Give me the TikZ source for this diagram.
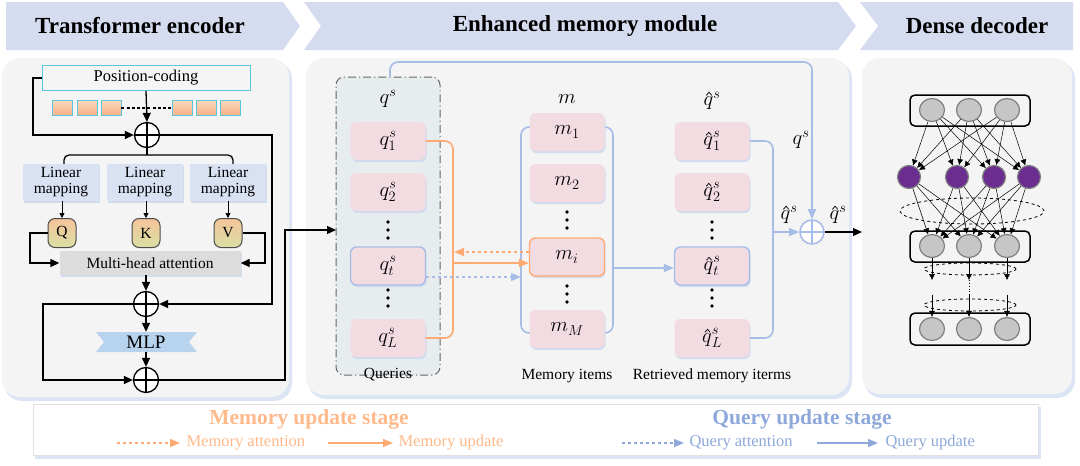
\documentclass[tikz,border=0pt]{standalone}
\usepackage{fontspec}
\setmainfont{Liberation Serif}
\usetikzlibrary{arrows.meta,calc,shapes.geometric,shadows}
\definecolor{bannerc}{HTML}{D6DCF0}
\definecolor{panelc}{HTML}{F4F4F4}
\definecolor{shadowc}{HTML}{DCE5F4}
\definecolor{pinkc}{HTML}{F2DCE2}
\definecolor{orangel}{HTML}{FFAA72}
\definecolor{orangetxt}{HTML}{FFB98A}
\definecolor{bluel}{HTML}{A8BCE8}
\definecolor{bluetxt}{HTML}{8EA8DB}
\definecolor{qfill}{HTML}{E7EDEF}
\definecolor{cyanb}{HTML}{5CC6E0}
\definecolor{lmfill}{HTML}{D9E2F3}
\definecolor{mhafill}{HTML}{DCDCDC}
\definecolor{mlpc}{HTML}{B7D3EE}
\definecolor{purplec}{HTML}{6B2D90}
\definecolor{grayc}{HTML}{C6C6C6}
\definecolor{tktop}{HTML}{FAD8BC}
\definecolor{tkbot}{HTML}{F5B084}
\definecolor{qkvtop}{HTML}{F5C49A}
\definecolor{qkvbot}{HTML}{D8DFA4}
\definecolor{boxshadow}{HTML}{C9D6EE}
% q with a drawn hat (keeps the hat from being a separate glyph)
\newcommand{\hq}{\mathord{\mbox{\ooalign{$q$\cr\hidewidth\kern0.06em\smash{\raisebox{0.5em}{\tikz[x=1pt,y=1pt,baseline=0pt,sharp corners]\draw[draw=black,solid,sharp corners,line width=0.035em,line join=miter,line cap=butt] (0,0) -- (0.13em,0.15em) -- (0.26em,0);}}\hidewidth\cr}}}}
\begin{document}
\begin{tikzpicture}[x=1pt,y=-1pt,
  ttl/.style={font=\bfseries\fontsize{23}{26}\selectfont},
  arr/.style={line width=1.3pt,-{Triangle[length=9pt,width=8pt]}},
  sarr/.style={line width=0.8pt,-{Triangle[length=5pt,width=5pt]}},
  blk/.style={line width=1.3pt},
  softshadow/.style={drop shadow={shadow xshift=1pt,shadow yshift=-2pt,fill=boxshadow,opacity=0.8}},
  oplus/.style={circle,draw,line width=1.3pt,fill=white,minimum size=25pt,inner sep=0pt,
    path picture={\draw[line width=1.3pt] (path picture bounding box.north) -- (path picture bounding box.south)
      (path picture bounding box.west) -- (path picture bounding box.east);}},
  bplus/.style={circle,draw=bluel,line width=1.6pt,fill=white,minimum size=24pt,inner sep=0pt,
    path picture={\draw[bluel,line width=1.6pt] (path picture bounding box.north) -- (path picture bounding box.south)
      (path picture bounding box.west) -- (path picture bounding box.east);}},
  token/.style={draw=cyanb,line width=0.9pt,top color=tktop,bottom color=tkbot,minimum width=20pt,minimum height=15pt,inner sep=0pt},
  lmbox/.style={fill=lmfill,softshadow,minimum width=76pt,minimum height=37pt,align=center,inner sep=1pt,font=\fontsize{15.5}{16}\selectfont},
  qkv/.style={draw=black!70,line width=1pt,rounded corners=7pt,top color=qkvtop,bottom color=qkvbot,minimum width=28pt,minimum height=29pt,inner sep=0pt,font=\fontsize{15.5}{16}\selectfont},
  pbox/.style={fill=pinkc,softshadow,rounded corners=6pt,minimum width=75pt,minimum height=38pt,inner sep=0pt,font=\fontsize{20}{21}\selectfont},
  lbl/.style={font=\fontsize{15.5}{17}\selectfont},
  mlbl/.style={font=\fontsize{21}{22}\selectfont},
  bline/.style={draw=bluel,line width=1.6pt},
  oline/.style={draw=orangel,line width=1.6pt},
  barr/.style={bline,-{Triangle[length=10pt,width=8pt]}},
  oarr/.style={oline,-{Triangle[length=10pt,width=8pt]}},
  gcirc/.style={ellipse,draw=black!50,line width=1.2pt,fill=grayc,minimum width=25pt,minimum height=23pt,inner sep=0pt},
  pcirc/.style={circle,draw=black!50,line width=1.2pt,fill=purplec,minimum size=23pt,inner sep=0pt},
  dline/.style={line width=0.5pt,-{Latex[length=6pt,width=6pt]}},
  vdot/.style={circle,fill=black,inner sep=0pt,minimum size=3.8pt},
  legtxt/.style={font=\fontsize{16.5}{18}\selectfont,anchor=west}
]
\useasboundingbox (0,0) rectangle (1080,466);
\fill[white] (0,0) rectangle (1080,466);

% banners
\fill[bannerc] (6,2) -- (283,2) -- (300,26) -- (283,50) -- (6,50) -- cycle;
\fill[bannerc] (304,2) -- (838,2) -- (856,26) -- (838,50) -- (304,50) -- (321,26) -- cycle;
\fill[bannerc] (860,2) -- (1073,2) -- (1073,50) -- (860,50) -- (878,26) -- cycle;
\node[ttl] (t1) at (140,26) {Transformer encoder};
\node[ttl] (t2) at (585,26) {Enhanced memory module};
\node[ttl] (t3) at (977,26) {Dense decoder};

% panels
\fill[shadowc,rounded corners=18pt] (4,61) rectangle (292,401);
\fill[panelc,rounded corners=18pt] (2,58) rectangle (289,397);
\fill[shadowc,rounded corners=18pt] (308,61) rectangle (852,399);
\fill[panelc,rounded corners=18pt] (306,58) rectangle (849,395);
\fill[shadowc,rounded corners=18pt] (864,61) rectangle (1075,398);
\fill[panelc,rounded corners=18pt] (862,58) rectangle (1072,394);

% legend box
\fill[shadowc] (35,407) rectangle (1041,459);
\draw[draw=black!12,fill=white] (33,404) rectangle (1038,455);

% ---------------- encoder
\node[draw=cyanb,line width=0.9pt,fill=black!4,minimum width=208pt,minimum height=25pt,inner sep=0pt,font=\fontsize{16.5}{18}\selectfont] (pc) at (146,78) {Position-coding};
\foreach \x/\n in {62/a,87/b,111/c,182/d,206/e,230/f}
  \node[token] (tk\n) at (\x,108) {};
\draw[line width=2.6pt,dash pattern=on 3pt off 2.2pt] (tkc.east) -- (tkd.west);
\node[oplus] (p1) at (147,135) {};
\draw[arr] (pc.south) -- (p1.north);
\coordinate (l1) at (33,78);
\draw[arr] (pc.west) -- (l1) |- (p1.west);
\draw[blk] (p1.south) -- (147,155);
\draw[blk,rounded corners=5pt] (64,164) -- (64,155) -- (233,155) -- (233,164);
\node[lmbox] (lm1) at (61,182) {Linear\\mapping};
\node[lmbox] (lm2) at (145,182) {Linear\\mapping};
\node[lmbox] (lm3) at (228,182) {Linear\\mapping};
\node[qkv] (Q) at (62,233) {Q};
\node[qkv] (K) at (146,233) {K};
\node[qkv] (V) at (228,233) {V};
\draw[sarr] (lm1.south -| Q) -- (Q.north);
\draw[sarr] (lm2.south -| K) -- (K.north);
\draw[sarr] (lm3.south -| V) -- (V.north);
\node[fill=mhafill,softshadow,minimum width=181pt,minimum height=24pt,inner sep=0pt,font=\fontsize{15.5}{17}\selectfont] (mha) at (150,263) {Multi-head attention};
\coordinate (ql) at (30,233);
\coordinate (vr) at (265,233);
\draw[arr] (Q.west) -- (ql) |- (mha.west);
\draw[arr] (V.east) -- (vr) |- (mha.east);
\node[oplus] (p2) at (146,304) {};
\draw[arr] (p2.north |- mha.south) -- (p2.north);
\coordinate (r1) at (272,135);
\draw[arr] (p1.east) -- (r1) |- (p2.east);
\fill[mlpc] (96,332) -- (197,332) -- (189,342) -- (197,352) -- (96,352) -- (104,342) -- cycle;
\node[minimum width=101pt,minimum height=20pt,inner sep=0pt,font=\fontsize{19}{20}\selectfont] (mlp) at (146,342) {MLP};
\draw[arr] (p2.south) -- (mlp.north);
\node[oplus] (p3) at (146,380) {};
\draw[arr] (mlp.south) -- (p3.north);
\coordinate (l2) at (43,304);
\draw[arr] (p2.west) -- (l2) |- (p3.west);

% ---------------- memory module
\node[draw=black!60,line width=1pt,dash pattern=on 8pt off 3pt on 1.2pt off 3pt,fill=qfill,rounded corners=8pt,minimum width=104pt,minimum height=298pt,inner sep=0pt] (qbox) at (388,226) {};
\coordinate (qin) at (336,230);
\coordinate (c1) at (285,380);
\draw[arr] (p3.east) -- (c1) |- (qin);

\node[mlbl] (qsl) at (388,99) {$q^s$};
\node[pbox] (q1) at (388,141) {$q^s_1$};
\node[pbox] (q2) at (388,192) {$q^s_2$};
\node[pbox,draw=bluel,line width=1.4pt] (qt) at (388,266) {$q^s_t$};
\node[pbox] (qL) at (388,338) {$q^s_L$};
\node[lbl] (qlab) at (388,375) {Queries};

% memory blue bracket
\draw[bline,rounded corners=8pt] (530,127) -- (521,127) -- (521,333) -- (530,333);
\draw[bline,rounded corners=8pt] (605,127) -- (613,127) -- (613,333) -- (605,333);
\node[mlbl] (ml) at (567,99) {$m$};
\node[pbox] (m1) at (567,132) {$m_1$};
\node[pbox] (m2) at (567,183) {$m_2$};
\node[pbox,draw=orangel,line width=1.4pt] (mi) at (567,257) {$m_i$};
\node[pbox] (mM) at (567,329) {$m_M$};
\node[lbl] (mlab) at (567,376) {Memory items};

% q hat
\node[mlbl] (qhl) at (712,99) {$\hq^s$};
\node[pbox] (qh1) at (712,141) {$\hq^s_1$};
\node[pbox] (qh2) at (712,192) {$\hq^s_2$};
\node[pbox,draw=bluel,line width=1.4pt] (qht) at (712,266) {$\hq^s_t$};
\node[pbox] (qhL) at (712,338) {$\hq^s_L$};
\node[lbl] (qhlab) at (712,376) {Retrieved memory iterms};

% vertical dots
\foreach \x in {388,712}{
  \foreach \y in {222,230,238,290,298,306}
    \node[vdot] at (\x,\y) {};
}
\foreach \y in {212,220,228,286,294,302}
  \node[vdot] at (567,\y) {};

% orange bracket and arrows
\draw[oline,rounded corners=8pt] (q1.east) -- (453,141) -- (453,338) -- (qL.east);
\coordinate (ob) at (454,252);
\draw[oarr,dashed] (ob -| mi.west) -- (ob);
\coordinate (ob2) at (453,263);
\draw[oarr] (ob2) -- (ob2 -| mi.west);
\coordinate (bq) at (521,277);
\draw[barr,dashed] (bq -| qt.east) -- (bq);
\coordinate (mb) at (613,268);
\draw[barr] (mb) -- (mb -| qht.west);

% q hat bracket and plus
\draw[bline,rounded corners=8pt] (qh1.east) -- (773,141) -- (773,338) -- (qhL.east);
\node[bplus] (pb) at (812,232) {};
\coordinate (qb) at (773,232);
\draw[barr] (qb) -- (pb.west);
\coordinate (tp1) at (390,62);
\coordinate (tp2) at (812,62);
\draw[barr,rounded corners=8pt] (qbox.north -| tp1) -- (tp1) -- (tp2) -- (pb.north);
\node[mlbl] (lq1) at (801,140) {$q^s$};
\node[mlbl] (lq2) at (789,213) {$\hq^s$};
\node[mlbl] (lq3) at (838,213) {$\hq^s$};
\coordinate (dec) at (862,232);
\draw[arr] (pb.east) -- (dec);

% ---------------- decoder
\draw[line width=1.5pt,rounded corners=5pt] (910,95) rectangle (1030,126);
\draw[line width=1.5pt,rounded corners=5pt] (910,231) rectangle (1030,262);
\draw[line width=1.5pt,rounded corners=5pt] (910,313) rectangle (1030,345);
\foreach \i/\x in {1/932,2/969,3/1007}{
  \node[gcirc] (a\i) at (\x,110) {};
  \node[gcirc] (b\i) at (\x,246) {};
  \node[gcirc] (c\i) at (\x,329) {};
}
\foreach \j/\x in {1/909,2/957,3/994,4/1029}
  \node[pcirc] (u\j) at (\x,177) {};
\foreach \i in {1,2,3}
  \foreach \j in {1,2,3,4}{
    \draw[dline] (a\i) -- (u\j);
    \draw[dline] (u\j) -- (b\i);
  }
\draw[dashed,line width=0.8pt] (972,211) ellipse [x radius=72pt,y radius=13pt];
\draw[dashed,line width=0.8pt] (970,269) ellipse [x radius=46pt,y radius=6pt];
\draw[dashed,line width=0.8pt] (970,305) ellipse [x radius=46pt,y radius=6pt];
\foreach \i in {1,2,3}{
  \coordinate (e\i) at ($(b\i.south)+(0,22)$);
  \coordinate (f\i) at ($(c\i.north)+(0,-22)$);
  \draw[dline] (b\i.south) -- (e\i);
  \draw[dline] (f\i) -- (c\i.north);
}
\draw[line width=0.8pt,dotted] (e2) -- (f2);

% ---------------- legend
\node[font=\bfseries\fontsize{21.5}{23}\selectfont,text=orangetxt] (lg1) at (309,419) {Memory update stage};
\node[font=\bfseries\fontsize{21.5}{23}\selectfont,text=bluetxt] (lg2) at (802,419) {Query update stage};
\coordinate (la1) at (117,443); \coordinate (la2) at (180,443);
\draw[oarr,dashed] (la1) -- (la2);
\node[legtxt,text=orangetxt] (lt1) at (183,443) {Memory attention};
\coordinate (la3) at (328,443); \coordinate (la4) at (393,443);
\draw[oarr] (la3) -- (la4);
\node[legtxt,text=orangetxt] (lt2) at (395,443) {Memory update};
\coordinate (la5) at (622,443); \coordinate (la6) at (684,443);
\draw[barr,dashed,draw=bluetxt] (la5) -- (la6);
\node[legtxt,text=bluetxt] (lt3) at (686,443) {Query attention};
\coordinate (la7) at (817,443); \coordinate (la8) at (878,443);
\draw[barr,draw=bluetxt] (la7) -- (la8);
\node[legtxt,text=bluetxt] (lt4) at (882,443) {Query update};
\end{tikzpicture}
\end{document}
